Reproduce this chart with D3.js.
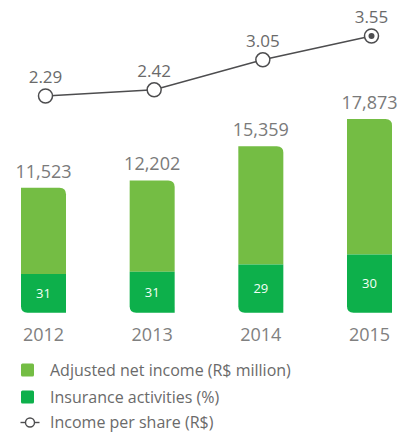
<!DOCTYPE html>
<html>
<head>
<meta charset="utf-8">
<script src="https://cdn.jsdelivr.net/npm/d3@7"></script>
<style>
  html, body { margin: 0; padding: 0; background: #fff; }
  svg { display: block; font-family: "Open Sans", sans-serif; }
</style>
</head>
<body>
<svg id="chart" width="398" height="433"></svg>
<script>
// Yearly figures
const years = ["2012", "2013", "2014", "2015"];
const netIncome = [11523, 12202, 15359, 17873];      // Adjusted net income (R$ million)
const insuranceShare = [31, 31, 29, 30];              // Insurance activities (%)
const incomePerShare = [2.29, 2.42, 3.05, 3.55];      // Income per share (R$)
const legendLabels = [
  "Adjusted net income (R$ million)",
  "Insurance activities (%)",
  "Income per share (R$)"
];

const lightGreen = "#74bd44";
const darkGreen = "#0db04b";
const lineColor = "#4d4d4f";
const textColor = "#7a7a7a";

const svg = d3.select("#chart");

const x = d3.scalePoint().domain(years).range([43.5, 369.5]);
const barW = 45;
const baseY = 312.7;
const y = d3.scaleLinear().domain([0, 18000]).range([baseY, baseY - 195.1]);
const yLine = d3.scaleLinear().domain([2, 4]).range([109.8, 14.6]);
const r = 6.5;

// Upper section with rounded top-right corner
function topPath(x0, y0, w, y1) {
  return `M${x0},${y1} L${x0},${y0} L${x0 + w - r},${y0} Q${x0 + w},${y0} ${x0 + w},${y0 + r} L${x0 + w},${y1} Z`;
}
// Lower section with rounded bottom-left corner
function bottomPath(x0, y0, w, y1) {
  return `M${x0},${y0} L${x0 + w},${y0} L${x0 + w},${y1} L${x0 + r},${y1} Q${x0},${y1} ${x0},${y1 - r} Z`;
}

const bars = svg.append("g").selectAll("g").data(years).join("g");

bars.append("path")
  .attr("fill", lightGreen)
  .attr("d", (d, i) => {
    const share = y(netIncome[i] * insuranceShare[i] / 100);
    return topPath(x(d) - barW / 2, y(netIncome[i]), barW, share);
  });

bars.append("path")
  .attr("fill", darkGreen)
  .attr("d", (d, i) => {
    const share = y(netIncome[i] * insuranceShare[i] / 100);
    return bottomPath(x(d) - barW / 2, share, barW, y(0));
  });

// Share labels inside the lower section
bars.append("text")
  .attr("x", d => x(d))
  .attr("y", (d, i) => (y(netIncome[i] * insuranceShare[i] / 100) + y(0)) / 2)
  .attr("dy", "0.35em")
  .attr("text-anchor", "middle")
  .attr("fill", "#f4fff6")
  .attr("font-size", 13)
  .text((d, i) => insuranceShare[i]);

// Net income values above bars
bars.append("text")
  .attr("x", d => x(d))
  .attr("y", (d, i) => y(netIncome[i]) - 10)
  .attr("text-anchor", "middle")
  .attr("fill", textColor)
  .attr("font-size", 18)
  .text((d, i) => d3.format(",")(netIncome[i]));

// Year axis labels
bars.append("text")
  .attr("x", d => x(d))
  .attr("y", 341)
  .attr("text-anchor", "middle")
  .attr("fill", "#808080")
  .attr("font-size", 18)
  .text(d => d);

// Income per share line
const lx = d => x(d) + 2;
svg.append("path")
  .datum(years)
  .attr("fill", "none")
  .attr("stroke", lineColor)
  .attr("stroke-width", 1.5)
  .attr("d", d3.line().x(d => lx(d)).y((d, i) => yLine(incomePerShare[i])));

const pts = svg.append("g").selectAll("g").data(years).join("g");
pts.append("circle")
  .attr("cx", d => lx(d))
  .attr("cy", (d, i) => yLine(incomePerShare[i]))
  .attr("r", 7)
  .attr("fill", "#fff")
  .attr("stroke", lineColor)
  .attr("stroke-width", 1.5);
pts.filter((d, i) => i === years.length - 1).append("circle")
  .attr("cx", d => lx(d))
  .attr("cy", () => yLine(incomePerShare[years.length - 1]))
  .attr("r", 3)
  .attr("fill", lineColor);
pts.append("text")
  .attr("x", d => lx(d))
  .attr("y", (d, i) => yLine(incomePerShare[i]) - 13)
  .attr("text-anchor", "middle")
  .attr("fill", "#6a6a6a")
  .attr("font-size", 17)
  .text((d, i) => incomePerShare[i].toFixed(2));

// Legend
const legend = svg.append("g");
const rowsY = [370, 397, 422.5];
legend.append("rect").attr("x", 21).attr("y", rowsY[0] - 6.5).attr("width", 13).attr("height", 13)
  .attr("rx", 1.5).attr("fill", lightGreen);
legend.append("rect").attr("x", 21).attr("y", rowsY[1] - 6.5).attr("width", 13).attr("height", 13)
  .attr("rx", 1.5).attr("fill", darkGreen);
legend.append("line").attr("x1", 20.5).attr("x2", 39.5).attr("y1", rowsY[2]).attr("y2", rowsY[2])
  .attr("stroke", lineColor).attr("stroke-width", 1.4);
legend.append("circle").attr("cx", 30).attr("cy", rowsY[2]).attr("r", 4.5)
  .attr("fill", "#fff").attr("stroke", lineColor).attr("stroke-width", 1.4);
legend.selectAll("text.lbl").data(legendLabels).join("text")
  .attr("class", "lbl")
  .attr("x", 50)
  .attr("y", (d, i) => rowsY[i])
  .attr("dy", "0.35em")
  .attr("fill", "#6a6a6a")
  .attr("font-size", 16)
  .text(d => d);
</script>
</body>
</html>
